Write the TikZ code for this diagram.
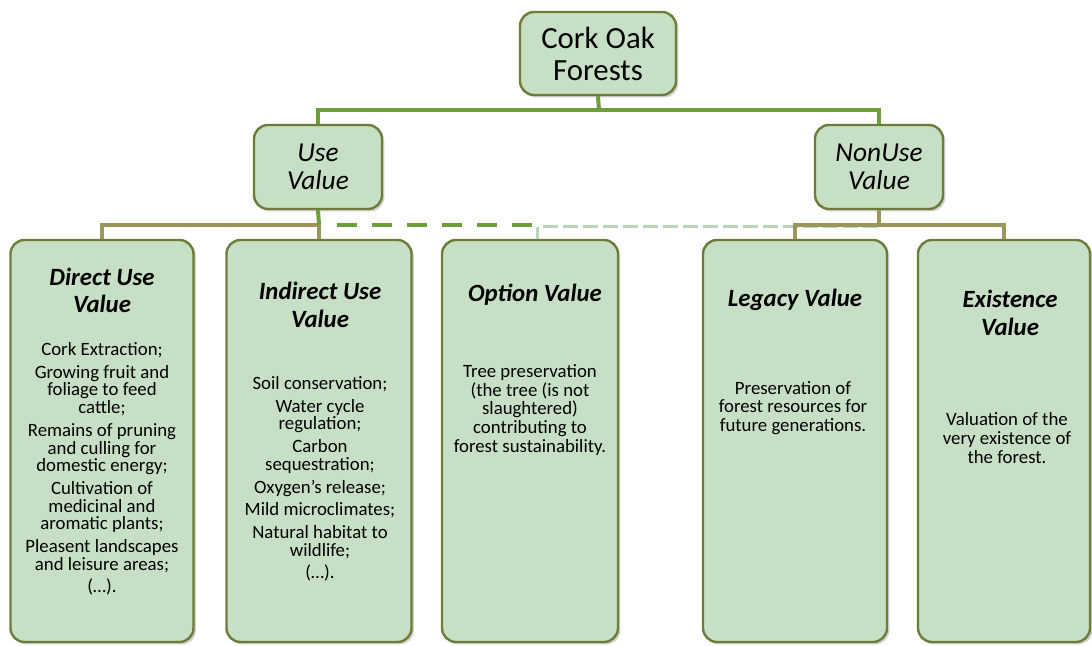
\documentclass[tikz,border=0pt]{standalone}
\usepackage{fontspec}
\setmainfont{Carlito}
\usetikzlibrary{shadows}

\definecolor{leafFill}{RGB}{199,224,197}
\definecolor{leafEdge}{RGB}{108,124,58}
\definecolor{branchGreen}{RGB}{108,158,58}
\definecolor{branchOlive}{RGB}{156,150,92}
\definecolor{branchPale}{RGB}{184,214,184}

\tikzset{
  valbox/.style={draw=leafEdge, fill=leafFill, line width=1.2pt, rounded corners=7pt,
    drop shadow={shadow xshift=1.2pt, shadow yshift=-1.2pt, opacity=.3, fill=black!60}},
  headtxt/.style={font=\fontsize{12.4}{13.8}\selectfont\bfseries\itshape, align=center},
  bodytxt/.style={font=\fontsize{9.4}{8.85}\selectfont, align=center},
  trunk/.style={draw=branchGreen, line width=2pt},
  twig/.style={draw=branchOlive, line width=1.8pt},
}

\begin{document}
\begin{tikzpicture}[x=0.5pt, y=-0.5pt]
  \useasboundingbox (0, 0) rectangle (1092, 646);

  % Root and the two value classes
  \node [valbox, minimum width=78pt, minimum height=41.5pt, align=center,
    font=\fontsize{15.4}{16}\selectfont] (forest) at (598, 53.5) {Cork Oak\\Forests};
  \node [valbox, minimum width=64pt, minimum height=42pt, align=center,
    font=\fontsize{13.7}{14}\selectfont\itshape] (use) at (318, 167) {Use\\Value};
  \node [valbox, minimum width=64pt, minimum height=42pt, align=center,
    font=\fontsize{13.7}{14}\selectfont\itshape] (nonuse) at (879, 167) {NonUse\\Value};

  % Tall boxes
  \node [valbox, minimum width=91.5pt, minimum height=201pt] (direct) at (102, 441) {};
  \node [valbox, minimum width=92.5pt, minimum height=201pt] (indirect) at (319, 441) {};
  \node [valbox, minimum width=88pt, minimum height=201pt] (option) at (530, 441) {};
  \node [valbox, minimum width=92pt, minimum height=201pt] (legacy) at (795, 441) {};
  \node [valbox, minimum width=86pt, minimum height=201pt] (existence) at (1004, 441) {};

  % Headings
  \node [headtxt] (directhead) at (102, 290.5) {Direct Use\\Value};
  \node [headtxt] (indirecthead) at (320, 305) {Indirect Use\\Value};
  \node [headtxt] (optionhead) at (535, 295) {Option Value};
  \node [headtxt] (legacyhead) at (795, 300) {Legacy Value};
  \node [headtxt] (existencehead) at (1010, 313) {Existence\\Value};

  % Contents
  \node [bodytxt] (directbody) at (102, 469) {Cork Extraction;\\[2.5pt]
    Growing fruit and\\foliage to feed\\cattle;\\[2.5pt]
    Remains of pruning\\and culling for\\domestic energy;\\[2.5pt]
    Cultivation of\\medicinal and\\aromatic plants;\\[2.5pt]
    Pleasent landscapes\\and leisure areas;\\[2.5pt]
    (\dots).};
  \node [bodytxt] (indirectbody) at (320, 479) {Soil conservation;\\[2.5pt]
    Water cycle\\regulation;\\[2.5pt]
    Carbon\\sequestration;\\[2.5pt]
    Oxygen's release;\\[2.5pt]
    Mild microclimates;\\[2.5pt]
    Natural habitat to\\wildlife;\\[2.5pt]
    (\dots).};
  \node [bodytxt, font=\fontsize{9.4}{9.4}\selectfont] (optionbody) at (530, 410)
    {Tree preservation\\(the tree (is not\\slaughtered)\\contributing to\\forest sustainability.};
  \node [bodytxt, font=\fontsize{9.4}{9.4}\selectfont] (legacybody) at (793, 408)
    {Preservation of\\forest resources for\\future generations.};
  \node [bodytxt, font=\fontsize{9.4}{9.4}\selectfont] (existencebody) at (1007, 438)
    {Valuation of the\\very existence of\\the forest.};

  % Top level branches
  \coordinate (fork) at (599, 110);
  \draw [trunk] (forest.south) -- (fork);
  \draw [trunk] (use.north) |- (fork) -| (nonuse.north);

  % Use value branches
  \coordinate (ujoin) at (319, 225);
  \coordinate (ojoin) at (537, 225);
  \draw [twig] (direct.north) |- (ujoin) -- (indirect.north);
  \draw [trunk] (use.south) -- (ujoin);

  % Option value sits between both classes
  \draw [branchGreen, line width=2pt, dash pattern=on 10pt off 7.5pt] ([xshift=9pt]ujoin) -- (ojoin);
  \coordinate (njoin) at (879, 225);
  \draw [branchPale, line width=1.5pt] (ojoin |- 0,227) -- (ojoin |- option.north);
  \draw [branchPale, line width=1.5pt, dash pattern=on 7.5pt off 2.5pt] ([xshift=3pt]ojoin |- 0,227) -- (njoin |- 0,227);

  % NonUse value branches
  \draw [twig] (nonuse.south) -- (njoin);
  \draw [twig] (legacy.north) |- (njoin) -| (existence.north);
\end{tikzpicture}
\end{document}
